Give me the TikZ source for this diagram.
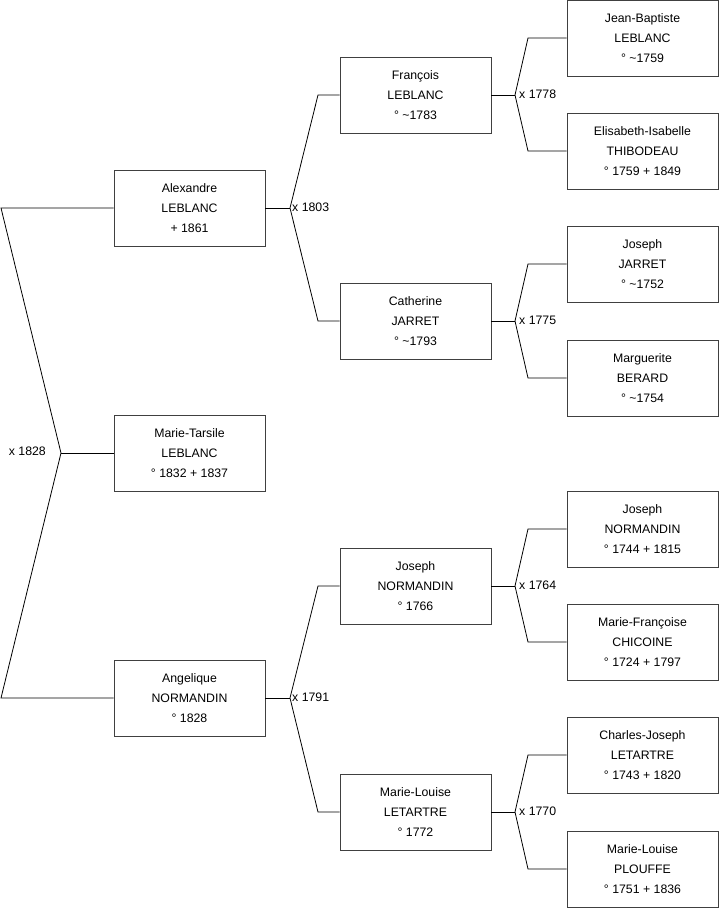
\documentclass[tikz,border=0pt]{standalone}
\usepackage{fontspec}
\setmainfont{Liberation Sans}
\usetikzlibrary{calc}
\begin{document}
\begin{tikzpicture}[x=1pt,y=-1pt,
  person/.style={draw=black!75,line width=0.8pt,fill=white,minimum width=151pt,minimum height=76pt,inner sep=0pt,align=center,font=\fontsize{12.3}{20}\selectfont},
  link/.style={draw=black,line width=0.8pt},
  marr/.style={font=\fontsize{12.3}{14}\selectfont,inner sep=1pt}]
\useasboundingbox (0,0) rectangle (719,908);
% column 1
\node[person] (alex) at (189.5,208) {Alexandre\\LEBLANC\\+ 1861};
\node[person] (mt) at (189.5,453) {Marie-Tarsile\\LEBLANC\\° 1832 + 1837};
\node[person] (ang) at (189.5,698) {Angelique\\NORMANDIN\\° 1828};
% column 2
\node[person] (fran) at (415.5,95) {François\\LEBLANC\\° \textasciitilde 1783};
\node[person] (cath) at (415.5,321) {Catherine\\JARRET\\° \textasciitilde 1793};
\node[person] (jn) at (415.5,586) {Joseph\\NORMANDIN\\° 1766};
\node[person] (mll) at (415.5,812) {Marie-Louise\\LETARTRE\\° 1772};
% column 3
\node[person] (jb) at (642.5,38) {Jean-Baptiste\\LEBLANC\\° \textasciitilde 1759};
\node[person] (ei) at (642.5,151) {Elisabeth-Isabelle\\THIBODEAU\\° 1759 + 1849};
\node[person] (jj) at (642.5,264) {Joseph\\JARRET\\° \textasciitilde 1752};
\node[person] (mb) at (642.5,378) {Marguerite\\BERARD\\° \textasciitilde 1754};
\node[person] (jn2) at (642.5,529) {Joseph\\NORMANDIN\\° 1744 + 1815};
\node[person] (mfc) at (642.5,642) {Marie-Françoise\\CHICOINE\\° 1724 + 1797};
\node[person] (cjl) at (642.5,755) {Charles-Joseph\\LETARTRE\\° 1743 + 1820};
\node[person] (mlp) at (642.5,869) {Marie-Louise\\PLOUFFE\\° 1751 + 1836};

% left bracket (x 1828)
\coordinate (lt) at (1,208);
\coordinate (lv) at (61,453);
\coordinate (lb) at (1,698);
\draw[link] (alex.west) -- (lt) -- (lv) -- (lb) -- (ang.west);
\draw[link] (lv) -- (mt.west);
\node[marr,anchor=east] (m1828) at (47,451) {x 1828};

% col1 -> col2 brackets
\foreach \p/\a/\b/\y/\ya/\yb/\lab/\nm in {alex/fran/cath/208/95/321/1803/m1803, ang/jn/mll/698/586/812/1791/m1791}{
  \coordinate (v\p) at (290,\y);
  \coordinate (ka\p) at (318,\ya);
  \coordinate (kb\p) at (318,\yb);
  \draw[link] (\p.east) -- (v\p);
  \draw[link] (\a.west) -- (ka\p) -- (v\p) -- (kb\p) -- (\b.west);
  \node[marr,anchor=west] (\nm) at (291,\y-1) {x \lab};
}
% col2 -> col3 brackets
\foreach \p/\a/\b/\y/\ya/\yb/\lab/\nm in {fran/jb/ei/95/38/151/1778/m1778, cath/jj/mb/321/264/378/1775/m1775, jn/jn2/mfc/586/529/642/1764/m1764, mll/cjl/mlp/812/755/869/1770/m1770}{
  \coordinate (v\p) at (515,\y);
  \coordinate (ka\p) at (528,\ya);
  \coordinate (kb\p) at (528,\yb);
  \draw[link] (\p.east) -- (v\p);
  \draw[link] (\a.west) -- (ka\p) -- (v\p) -- (kb\p) -- (\b.west);
  \node[marr,anchor=west] (\nm) at (518,\y-1) {x \lab};
}
\end{tikzpicture}
\end{document}
